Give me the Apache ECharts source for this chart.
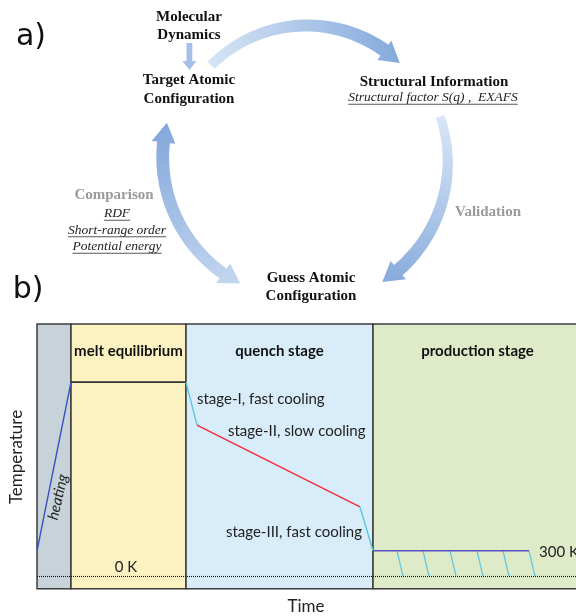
<!DOCTYPE html>
<html><head><meta charset="utf-8">
<script src="https://cdn.jsdelivr.net/npm/echarts@6/dist/echarts.min.js"></script>
<style>html,body{margin:0;padding:0;background:#fff}#c{width:576px;height:616px}</style>
</head><body><div id="c"></div>
<script>
// ---------- Panel a: cycle arrows (polar: angle in screen degrees, 0 = east, 90 = south; radius in px) ----------
const arrowNames = ['to structural information', 'validation', 'comparison'];
const arrowStartAngle = [225, -18, 118];
const arrowEndAngle = [314, 58, 195];
const arrowStartRadius = [134, 141, 140];
const arrowEndRadius = [135, 144, 144];

// ---------- Panel b: MD temperature protocol ----------
const stageLabels = ['', 'melt equilibrium', 'quench stage', 'production stage'];
const stageStart = [0, 34, 149, 336];
const stageEnd = [34, 149, 336, 545];
const pathTime = [0, 34, 149, 160, 323, 336, 492];
const pathTemp = [300, 2300, 2300, 1790, 820, 300, 300];
const segmentNames = ['heating', 'melt equilibrium', 'stage-I, fast cooling', 'stage-II, slow cooling', 'stage-III, fast cooling', 'production'];
const hatchTimeTop = [360, 386, 413, 440, 466, 492];
const hatchTimeBottom = [366, 392, 419, 446, 472, 498];
const hatchTempTop = [300, 300, 300, 300, 300, 300];
const hatchTempBottom = [0, 0, 0, 0, 0, 0];
const zeroKelvin = 0;

// ---------- styles ----------
const arrowStyle = [
  {w0: 10, w1: 14, head0: false, head1: true, c0: '#d6e4f5', c1: '#84a9dc'},
  {w0: 9, w1: 14, head0: false, head1: true, c0: '#d8e6f6', c1: '#86aadc'},
  {w0: 12, w1: 13, head0: true, head1: true, c0: '#c4d7f0', c1: '#84a8db'}
];
const segColors = ['#3b50c4', '#333333', '#5cc5e3', '#ee2b3a', '#5cc5e3', '#5a52c4'];
const regionColors = ['#c7d3d9', '#fcf2c1', '#d8edf9', '#deeac8'];
const serif = '"Liberation Serif", "Times New Roman", serif';
const sans = 'Lato, "Open Sans", sans-serif';

const HEAD_LEN = 20, HEAD_HALF = 12;
function renderArrow(params, api) {
  const i = params.dataIndex;
  const st = arrowStyle[i];
  const r0 = api.value(0), a0 = api.value(1), r1 = api.value(2), a1 = api.value(3);
  const P = (r, a) => api.coord([r, a]);
  const rAt = a => r0 + (r1 - r0) * (a - a0) / (a1 - a0);
  const wAt = a => st.w0 + (st.w1 - st.w0) * (a - a0) / (a1 - a0);
  const degPerPx = r => 180 / (Math.PI * r);
  const s0 = st.head0 ? a0 + HEAD_LEN * degPerPx(r0) : a0;
  const s1 = st.head1 ? a1 - HEAD_LEN * degPerPx(r1) : a1;
  const N = 48, outer = [], inner = [];
  for (let k = 0; k <= N; k++) {
    const a = s0 + (s1 - s0) * k / N;
    const r = rAt(a), w = wAt(a);
    outer.push(P(r + w / 2, a));
    inner.push(P(r - w / 2, a));
  }
  let pts = [];
  if (st.head0) {
    const rb = rAt(s0);
    pts.push(P(rb - HEAD_HALF, s0), P(r0, a0), P(rb + HEAD_HALF, s0));
  }
  pts = pts.concat(outer);
  if (st.head1) {
    const rb = rAt(s1);
    pts.push(P(rb + HEAD_HALF, s1), P(r1, a1), P(rb - HEAD_HALF, s1));
  }
  pts = pts.concat(inner.reverse());
  const p0 = P(r0, a0), p1 = P(r1, a1);
  return {
    type: 'polygon',
    shape: {points: pts},
    style: {
      fill: new echarts.graphic.LinearGradient(p0[0], p0[1], p1[0], p1[1],
        [{offset: 0, color: st.c0}, {offset: 1, color: st.c1}], true)
    }
  };
}

// text helpers
const mctx = document.createElement('canvas').getContext('2d');
const graphics = [];
function addText(text, x, y, o) {
  o = o || {};
  graphics.push({
    type: 'text', x: x, y: y, rotation: o.rotation || 0, z: 10,
    style: {
      text: text, fill: o.color || '#111',
      fontSize: o.size || 15, fontFamily: o.family || serif,
      fontWeight: o.weight || 'normal', fontStyle: o.style || 'normal',
      align: o.align || 'center', verticalAlign: 'middle'
    }
  });
  if (o.underline) {
    mctx.font = (o.style || 'normal') + ' ' + (o.weight || 'normal') + ' ' + (o.size || 15) + 'px ' + (o.family || serif);
    const w = mctx.measureText(text).width;
    const uy = y + (o.size || 15) * 0.5;
    graphics.push({type: 'line', z: 10, shape: {x1: x - w / 2, y1: uy, x2: x + w / 2, y2: uy},
      style: {stroke: '#444', lineWidth: 0.9}});
  }
}

// panel labels
addText('a)', 31, 37, {family: '"DejaVu Sans", sans-serif', size: 30});
addText('b)', 28, 290, {family: '"DejaVu Sans", sans-serif', size: 30});
// panel a labels
addText('Molecular', 189, 17.5, {weight: 'bold'});
addText('Dynamics', 189, 35, {weight: 'bold'});
addText('Target Atomic', 189, 80, {weight: 'bold'});
addText('Configuration', 189, 99, {weight: 'bold'});
addText('Structural Information', 434, 82, {weight: 'bold'});
addText('Structural factor S(q) ,  EXAFS', 433, 97.5, {style: 'italic', size: 13.5, color: '#222', underline: true});
addText('Comparison', 114, 195, {weight: 'bold', color: '#9a9a9a'});
addText('RDF', 117, 213.5, {style: 'italic', size: 13.5, color: '#222', underline: true});
addText('Short-range order', 117, 230, {style: 'italic', size: 13.5, color: '#222', underline: true});
addText('Potential energy', 117, 246.5, {style: 'italic', size: 13.5, color: '#222', underline: true});
addText('Validation', 488, 212, {weight: 'bold', color: '#9a9a9a'});
addText('Guess Atomic', 311, 278, {weight: 'bold'});
addText('Configuration', 311, 296.5, {weight: 'bold'});
// small MD arrow
graphics.push({type: 'polygon', z: 5, shape: {points: [[186.5, 43], [192.3, 43], [192.3, 61], [196.5, 61], [189.4, 70], [182.3, 61], [186.5, 61]]},
  style: {fill: '#a6c1e8'}});
// panel b labels
addText('stage-I, fast cooling', 197, 399, {family: sans, align: 'left', color: '#222'});
addText('stage-II, slow cooling', 228, 431, {family: sans, align: 'left', color: '#222'});
addText('stage-III, fast cooling', 362, 532, {family: sans, align: 'right', color: '#222'});
addText('0 K', 126, 567, {family: sans, color: '#222'});
addText('300 K', 539, 552, {family: sans, align: 'left', color: '#222'});
addText('heating', 58, 497, {family: sans, style: 'italic', color: '#222', rotation: 77 * Math.PI / 180});
addText('Temperature', 16.5, 457, {family: sans, size: 17, color: '#222', rotation: Math.PI / 2});
addText('Time', 306, 607, {family: sans, size: 17, color: '#222'});

// series
const series = [];
series.push({
  type: 'custom', coordinateSystem: 'polar', polarIndex: 0, z: 3,
  data: arrowNames.map((n, i) => ({name: n, value: [arrowStartRadius[i], arrowStartAngle[i], arrowEndRadius[i], arrowEndAngle[i]]})),
  renderItem: renderArrow, silent: true
});
series.push({
  type: 'line', xAxisIndex: 0, yAxisIndex: 0, data: [], z: 1, silent: true,
  markArea: {
    silent: true,
    data: stageLabels.map((lab, i) => [
      {name: lab, xAxis: stageStart[i], yAxis: -150,
        itemStyle: {color: regionColors[i], borderColor: '#3c3c3c', borderWidth: 1.5}},
      {xAxis: stageEnd[i], yAxis: 2990}
    ]),
    label: {show: true, position: 'insideTop', distance: 20, fontFamily: sans, fontWeight: 'bold', fontSize: 15, color: '#111'}
  },
  markLine: {
    silent: true, symbol: ['none', 'none'], label: {show: false},
    lineStyle: {type: [1, 1], color: '#111', width: 1.1},
    data: [{yAxis: zeroKelvin}]
  }
});
segmentNames.forEach((n, i) => {
  series.push({
    type: 'line', name: n, z: 4, silent: true, symbol: 'none',
    data: [[pathTime[i], pathTemp[i]], [pathTime[i + 1], pathTemp[i + 1]]],
    lineStyle: {color: segColors[i], width: i === 1 ? 1.6 : 1.4}
  });
});
series.push({
  type: 'lines', coordinateSystem: 'cartesian2d', z: 4, silent: true,
  data: hatchTimeTop.map((x, i) => ({coords: [[x, hatchTempTop[i]], [hatchTimeBottom[i], hatchTempBottom[i]]]})),
  lineStyle: {color: '#5cc5e3', width: 1.2, opacity: 1}
});

const chart = echarts.init(document.getElementById('c'));
chart.setOption({
  animation: false,
  backgroundColor: '#ffffff',
  polar: {center: [306, 160], radius: 200},
  angleAxis: {show: false, min: -90, max: 270, startAngle: 90, clockwise: true},
  radiusAxis: {show: false, min: 0, max: 200},
  grid: {left: 37, top: 324, width: 560, height: 264.7, show: false, outerBoundsMode: 'none', containLabel: false},
  xAxis: {type: 'value', min: 0, max: 560, show: false},
  yAxis: {type: 'value', min: -150, max: 2990, show: false},
  graphic: {elements: graphics},
  series: series
});
</script></body></html>
